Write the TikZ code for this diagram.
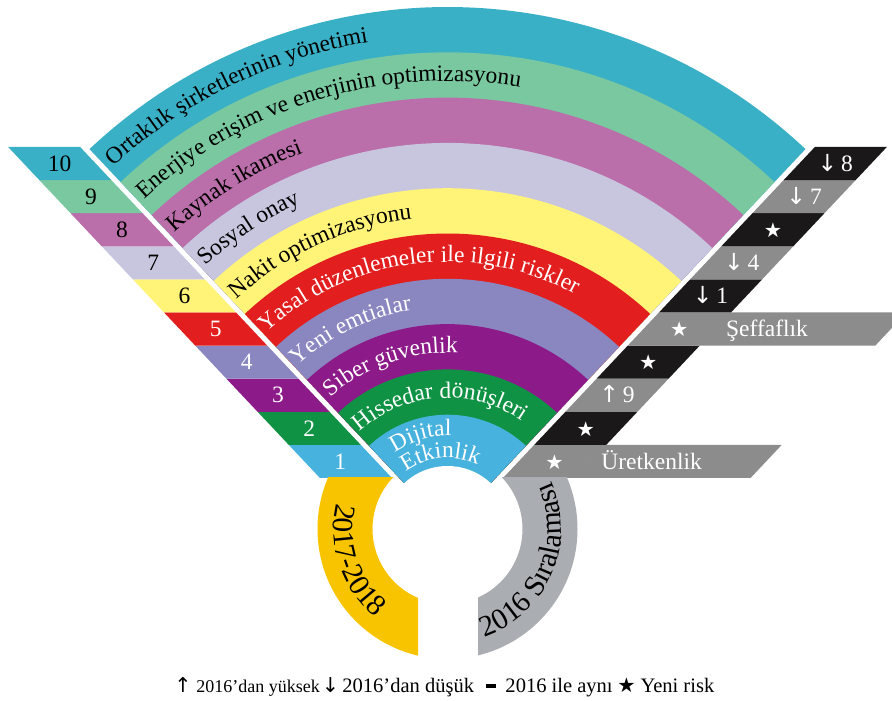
\documentclass[tikz,border=0pt]{standalone}
\usepackage{fontspec}
\setmainfont{Liberation Serif}
\newfontfamily\symfont{DejaVu Sans}
\usetikzlibrary{decorations.text,positioning}

\definecolor{tealband}{RGB}{58,176,198}
\definecolor{mintband}{RGB}{122,200,160}
\definecolor{pinkband}{RGB}{186,110,170}
\definecolor{lilacband}{RGB}{200,198,222}
\definecolor{yellowband}{RGB}{255,243,120}
\definecolor{redband}{RGB}{226,30,30}
\definecolor{slateband}{RGB}{138,134,192}
\definecolor{plumband}{RGB}{140,26,136}
\definecolor{greenband}{RGB}{16,146,68}
\definecolor{skyband}{RGB}{72,178,222}
\definecolor{darkstrip}{RGB}{26,24,24}
\definecolor{greystrip}{RGB}{140,140,140}
\definecolor{goldring}{RGB}{248,196,0}
\definecolor{silverring}{RGB}{170,173,177}

\newcommand{\bandfont}{\fontsize{16.7}{18}\selectfont}
\newcommand{\ringfont}{\fontsize{21}{23}\selectfont}
\newcommand{\keyfont}{\fontsize{14.6}{17}\selectfont}
\newcommand{\uparr}{{\symfont ↑}}
\newcommand{\dnarr}{{\symfont ↓}}
\newcommand{\riskstar}{{\symfont\fontsize{14.5}{14.5}\selectfont ★}}
\newcommand{\samebar}{\rule[3.5pt]{7.5pt}{2.8pt}}

\begin{document}
\begin{tikzpicture}[x=0.025cm, y=0.025cm,
  darktext/.style={decorate, decoration={text along path, text color=black, text={|\bandfont|#1}}},
  lighttext/.style={decorate, decoration={text along path, text color=white, text={|\bandfont|#1}}},
  ringtext/.style={decorate, decoration={text along path, text align=center, text={|\ringfont|#1}}},
  rank/.style={font=\bandfont, inner sep=0pt, text height=11pt, text depth=0pt},
  keytext/.style={font=\keyfont, inner sep=0pt, text height=10pt, text depth=2pt}]
\useasboundingbox (-447.5,-172) rectangle (444.5,529);
\clip (-447.5,-172) rectangle (444.5,529);

% fan of risks
\foreach \r/\c in {522/tealband, 476.7/mintband, 431.4/pinkband, 386.1/lilacband, 340.8/yellowband,
                   295.5/redband, 250.2/slateband, 204.9/plumband, 159.6/greenband, 114.3/skyband}
  \fill[\c] (46.7:58) -- (46.7:\r) arc (46.7:133.3:\r) -- (133.3:58) arc (133.3:46.7:58) -- cycle;
\fill[white] (0,0) -- (44:63) arc (44:136:63) -- cycle;

\path[darktext={Ortaklık şirketlerinin yönetimi}] (132.6:493) arc (132.6:47:493);
\path[darktext={Enerjiye erişim ve enerjinin optimizasyonu}] (132.6:448) arc (132.6:47:448);
\path[darktext={Kaynak ikamesi}] (132.6:403) arc (132.6:47:403);
\path[darktext={Sosyal onay}] (132.6:357.5) arc (132.6:47:357.5);
\path[darktext={Nakit optimizasyonu}] (132.6:312) arc (132.6:47:312);
\path[lighttext={Yasal düzenlemeler ile ilgili riskler}] (132.6:267) arc (132.6:47:267);
\path[lighttext={Yeni emtialar}] (132.5:221.5) arc (132.5:47:221.5);
\path[lighttext={Siber güvenlik}] (131.5:176) arc (131.5:47:176);
\path[lighttext={Hissedar dönüşleri}] (132:131) arc (132:47:131);
\path[lighttext={Dijital}] (124.5:93) arc (124.5:47:93);
\path[lighttext={Etkinlik}] (126:71) arc (126:47:71);

% 2017-2018 ranks
\begin{scope}[xslant=-0.942]
\foreach \i/\c/\t in {1/skyband/white, 2/greenband/white, 3/plumband/white, 4/slateband/white,
                      5/redband/white, 6/yellowband/black, 7/lilacband/black, 8/pinkband/black,
                      9/mintband/black, 10/tealband/black}{
  \fill[\c] (-79.5,{51+(\i-1)*33.1}) rectangle (-7.5,{51+\i*33.1});
  \node[rank, text=\t] (n\i) at (-43.5,{51+(\i-0.5)*33.1}) {\i};
}
\end{scope}

% 2016 ranks
\begin{scope}[xslant=0.942]
\fill[greystrip] (79,51) rectangle (255,84.1);
\fill[greystrip] (79,183.4) rectangle (255,216.5);
\foreach \i/\c/\t in {1/greystrip/{\riskstar}, 2/darkstrip/{\riskstar}, 3/greystrip/{\uparr\,9},
                      4/darkstrip/{\riskstar}, 5/greystrip/{\riskstar}, 6/darkstrip/{\dnarr\,1},
                      7/greystrip/{\dnarr\,4}, 8/darkstrip/{\riskstar}, 9/greystrip/{\dnarr\,7},
                      10/darkstrip/{\dnarr\,8}}{
  \fill[\c] (7.5,{51+(\i-1)*33.1}) rectangle (79.5,{51+\i*33.1});
  \node[rank, text=white] (s\i) at (43.5,{51+(\i-0.5)*33.1}) {\t};
}
\node[rank, text=white, anchor=west] (uretken) at (90,67.55) {Üretkenlik};
\node[rank, text=white, anchor=west] (seffaf) at (90,199.95) {Şeffaflık};
\end{scope}

% ring
\begin{scope}
\clip (-140,51) rectangle (-29.5,-140);
\fill[goldring, even odd rule] (0,0) circle (130) (0,0) circle (75);
\end{scope}
\begin{scope}
\clip (30.5,51) rectangle (140,-140);
\fill[silverring, even odd rule] (0,0) circle (130) (0,0) circle (75);
\end{scope}
\path[ringtext={2017-2018}] (160:114) arc (160:238:114);
\path[ringtext={2016 Sıralaması}] (-75:114) arc (-75:29:114);

% legend
\node[keytext] (upkey) at (-264.5,-158) {\uparr};
\node[keytext, font=\fontsize{12.8}{15}\selectfont, right=3pt of upkey] (higher) {2016’dan yüksek};
\node[keytext, right=1pt of higher] (downkey) {\dnarr};
\node[keytext, right=2pt of downkey] (lower) {2016’dan düşük};
\node[keytext, right=8pt of lower] (samekey) {\samebar};
\node[keytext, right=6pt of samekey] (same) {2016 ile aynı};
\node[keytext, right=3pt of same] (newkey) {\riskstar};
\node[keytext, right=3pt of newkey] (newrisk) {Yeni risk};
% \draw (upkey) -- (newrisk);
\end{tikzpicture}
\end{document}
